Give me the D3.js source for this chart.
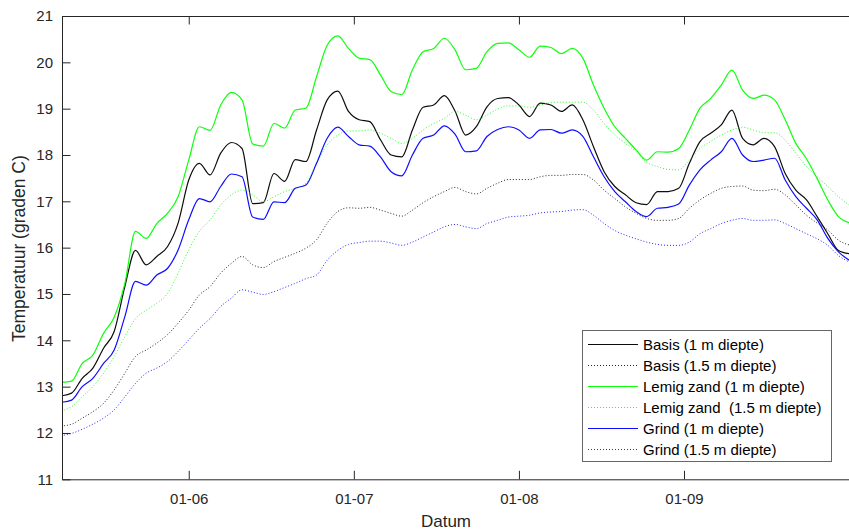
<!DOCTYPE html>
<html>
<head>
<meta charset="utf-8">
<script src="https://cdn.jsdelivr.net/npm/d3@7"></script>
<style>
  html, body { margin: 0; padding: 0; background: #ffffff; }
  svg { display: block; }
  text { font-family: "Liberation Sans", Arial, Helvetica, sans-serif; }
</style>
</head>
<body>
<svg id="chart" width="849" height="532"></svg>
<script>
// Days relative to 1 June (tick spacing of the original is one "month" = 31 days)
const days = [-24,-22,-20,-18,-16,-14,-12,-10,-8,-6,-4,-2,0,2,4,6,8,10,12,14,16,18,20,22,24,26,28,30,32,34,36,38,40,42,44,46,48,50,52,54,56,58,60,62,64,66,68,70,72,74,76,78,80,82,84,86,88,90,92,94,96,98,100,102,104,106,108,110,112,114,116,118,120,122,124];

const basis1 = [12.8,12.86,13.18,13.4,13.83,14.19,15.16,15.94,15.63,15.81,16.02,16.53,17.46,17.82,17.57,18.04,18.27,18.14,16.95,16.97,17.6,17.43,17.9,17.86,18.54,19.19,19.38,18.94,18.76,18.72,18.33,18.0,17.96,18.54,19.03,19.08,19.28,18.95,18.43,18.61,19.04,19.22,19.24,19.08,18.83,19.12,19.08,18.94,19.08,18.76,18.18,17.64,17.32,17.14,16.97,16.93,17.21,17.21,17.28,17.82,18.29,18.47,18.65,18.97,18.36,18.22,18.36,18.18,17.6,17.24,17.03,16.67,16.3,15.94,15.87];

const basis15 = [12.15,12.19,12.32,12.46,12.64,12.93,13.29,13.65,13.79,13.94,14.12,14.37,14.65,14.98,15.16,15.45,15.66,15.81,15.63,15.57,15.7,15.79,15.88,15.99,16.17,16.53,16.78,16.86,16.85,16.87,16.81,16.74,16.68,16.81,16.97,17.1,17.21,17.3,17.21,17.16,17.28,17.39,17.47,17.47,17.47,17.53,17.56,17.56,17.58,17.58,17.46,17.24,17.06,16.88,16.74,16.63,16.59,16.59,16.63,16.85,17.03,17.17,17.28,17.32,17.33,17.24,17.23,17.26,17.14,16.92,16.7,16.53,16.38,16.16,16.06];

const lemig1 = [13.09,13.12,13.5,13.68,14.15,14.5,15.23,16.35,16.2,16.52,16.74,17.1,17.89,18.61,18.53,19.08,19.35,19.19,18.24,18.19,18.68,18.58,18.97,19.01,19.69,20.37,20.57,20.3,20.09,20.06,19.73,19.37,19.3,19.84,20.23,20.3,20.52,20.27,19.84,19.87,20.23,20.41,20.42,20.27,20.11,20.35,20.32,20.19,20.3,20.09,19.51,19.01,18.61,18.36,18.11,17.89,18.07,18.06,18.14,18.54,19.01,19.22,19.51,19.83,19.4,19.22,19.29,19.19,18.76,18.25,17.92,17.49,17.03,16.67,16.54];

const lemig15 = [12.48,12.57,12.78,13.0,13.29,13.65,14.08,14.47,14.65,14.8,15.01,15.45,15.95,16.35,16.6,16.92,17.14,17.24,17.14,16.99,17.1,17.21,17.28,17.39,17.82,18.22,18.43,18.52,18.52,18.54,18.47,18.36,18.25,18.36,18.54,18.68,18.79,18.94,18.86,18.76,18.86,18.99,19.06,19.06,19.03,19.08,19.13,19.14,19.14,19.14,18.97,18.68,18.43,18.25,18.07,17.84,17.75,17.69,17.68,17.89,18.14,18.29,18.43,18.54,18.6,18.54,18.48,18.48,18.32,18.04,17.75,17.53,17.32,17.1,16.92];

const grind1 = [12.66,12.71,13.0,13.18,13.5,13.79,14.51,15.27,15.19,15.41,15.55,15.95,16.6,17.06,16.99,17.32,17.59,17.53,16.66,16.61,16.99,16.97,17.28,17.35,17.82,18.36,18.6,18.4,18.22,18.19,17.96,17.64,17.55,18.0,18.36,18.43,18.63,18.45,18.07,18.09,18.4,18.55,18.61,18.54,18.36,18.54,18.55,18.47,18.54,18.4,17.96,17.53,17.21,16.99,16.78,16.67,16.85,16.87,16.94,17.35,17.68,17.89,18.07,18.36,18.0,17.86,17.89,17.93,17.46,17.1,16.85,16.6,16.2,15.91,15.73];

const grind15 = [11.94,11.99,12.08,12.19,12.32,12.5,12.78,13.07,13.29,13.4,13.54,13.76,14.01,14.26,14.47,14.73,14.91,15.09,15.04,14.99,15.05,15.14,15.23,15.33,15.41,15.73,15.94,16.07,16.11,16.14,16.14,16.1,16.05,16.12,16.23,16.34,16.45,16.5,16.45,16.41,16.52,16.59,16.66,16.68,16.7,16.75,16.77,16.78,16.81,16.82,16.7,16.52,16.37,16.27,16.19,16.12,16.07,16.05,16.05,16.12,16.3,16.41,16.52,16.59,16.63,16.59,16.59,16.6,16.52,16.41,16.3,16.19,16.05,15.83,15.69];

const seriesNames = ["Basis (1 m diepte)", "Basis (1.5 m diepte)", "Lemig zand (1 m diepte)", "Lemig zand  (1.5 m diepte)", "Grind (1 m diepte)", "Grind (1.5 m diepte)"];
const seriesValues = [basis1, basis15, lemig1, lemig15, grind1, grind15];
const seriesColors = ["#000000", "#000000", "#00ff00", "#00ff00", "#0000ff", "#0000ff"];
const seriesDotted = [false, true, false, true, false, true];

const xTickValues = [0, 31, 62, 93];
const xTickLabels = ["01-06", "01-07", "01-08", "01-09"];
const yTickValues = [11, 12, 13, 14, 15, 16, 17, 18, 19, 20, 21];
const xDomain = [-23.8, 124];
const yDomain = [11, 21];

const xLabel = "Datum";
const yLabel = "Temperatuur (graden C)";

const svg = d3.select("#chart");
const L = 62, R = 849.1, T = 16, B = 479.3;
const axisColor = "#262626";

const x = d3.scaleLinear().domain(xDomain).range([L, R]);
const y = d3.scaleLinear().domain(yDomain).range([B, T]);

svg.append("defs").append("clipPath").attr("id", "plotclip")
  .append("rect").attr("x", L).attr("y", T).attr("width", R - L).attr("height", B - T);

// lines
const line = d3.line().x((d) => x(d[0])).y((d) => y(d[1])).curve(d3.curveMonotoneX);
const gLines = svg.append("g").attr("clip-path", "url(#plotclip)");
seriesValues.forEach((vals, i) => {
  const pts = days.map((d, j) => [d, vals[j]]);
  gLines.append("path")
    .datum(pts)
    .attr("d", line)
    .attr("fill", "none")
    .attr("stroke", seriesColors[i])
    .attr("stroke-width", seriesDotted[i] ? 1 : 1.2)
    .attr("stroke-dasharray", seriesDotted[i] ? "1,2" : null)
    .attr("opacity", seriesDotted[i] ? 0.85 : 0.95);
});

// axes
const tickLen = 8.5;
const fs = 15;
const gx = svg.append("g").attr("transform", `translate(0,${B})`)
  .call(d3.axisBottom(x).tickValues(xTickValues).tickFormat((d, i) => xTickLabels[i]).tickSizeInner(-tickLen).tickSizeOuter(0).tickPadding(14));
const gxTop = svg.append("g").attr("transform", `translate(0,${T})`)
  .call(d3.axisTop(x).tickValues(xTickValues).tickFormat("").tickSizeInner(-tickLen).tickSizeOuter(0));
const gy = svg.append("g").attr("transform", `translate(${L},0)`)
  .call(d3.axisLeft(y).tickValues(yTickValues).tickFormat(d3.format("d")).tickSizeInner(-tickLen).tickSizeOuter(0).tickPadding(9));

[gx, gxTop, gy].forEach((g) => {
  g.select(".domain").attr("stroke", axisColor).attr("stroke-width", 1);
  g.selectAll(".tick line").attr("stroke", axisColor).attr("stroke-width", 1);
  g.selectAll(".tick text").attr("fill", axisColor).attr("font-size", fs)
    .attr("font-family", '"Liberation Sans", Arial, sans-serif');
});

// axis labels
svg.append("text").attr("x", 446).attr("y", 527)
  .attr("text-anchor", "middle").attr("font-size", 17).attr("fill", axisColor).text(xLabel);
svg.append("text")
  .attr("transform", `translate(25,${(T + B) / 2 + 1}) rotate(-90)`)
  .attr("text-anchor", "middle").attr("font-size", 17.5).attr("fill", axisColor).text(yLabel);

// legend
const lgX = 582.5, lgY = 330.5, lgW = 249, lgH = 131;
const lg = svg.append("g");
lg.append("rect").attr("x", lgX).attr("y", lgY).attr("width", lgW).attr("height", lgH)
  .attr("fill", "#ffffff").attr("stroke", "#666666").attr("stroke-width", 1);
seriesNames.forEach((name, i) => {
  const cy = 344.5 + i * 21;
  lg.append("line").attr("x1", 588).attr("x2", 638).attr("y1", cy).attr("y2", cy)
    .attr("stroke", seriesColors[i])
    .attr("stroke-width", seriesDotted[i] ? 1 : 1.2)
    .attr("stroke-dasharray", seriesDotted[i] ? "1,2" : null)
    .attr("opacity", seriesDotted[i] ? 0.85 : 0.95);
  lg.append("text").attr("x", 643).attr("y", cy + 5.3)
    .attr("font-size", 15).attr("fill", "#000000")
    .style("white-space", "pre").text(name);
});
</script>
</body>
</html>
